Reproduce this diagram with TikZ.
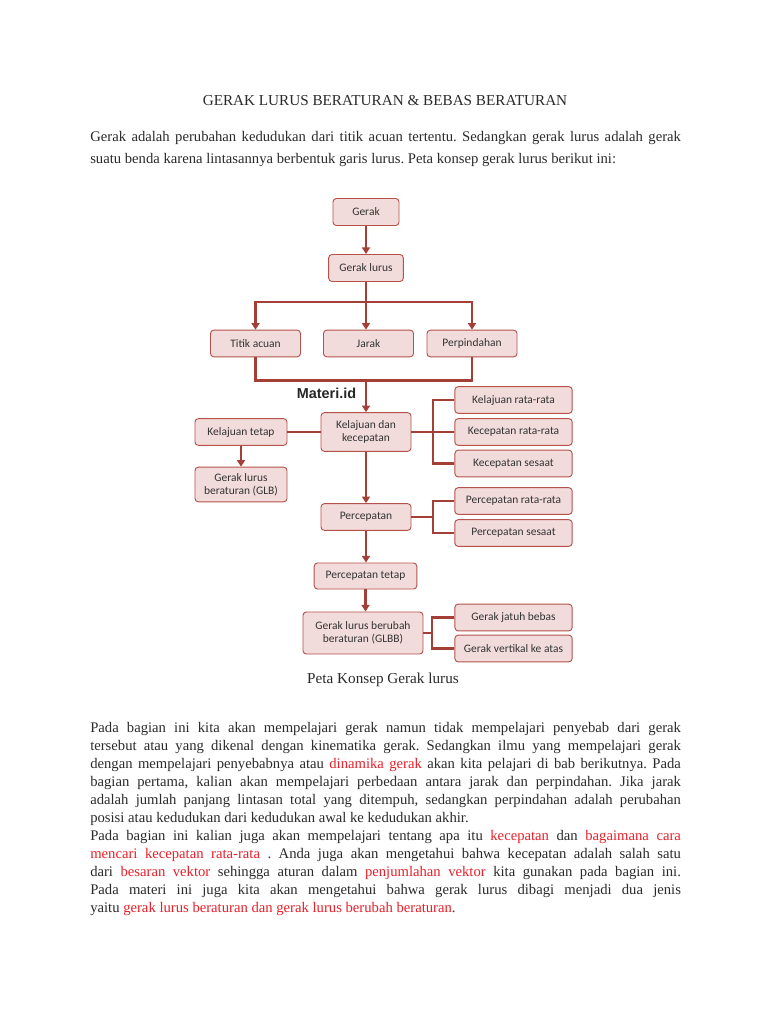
\documentclass[tikz,border=0pt]{standalone}
\usepackage{fontspec}
\setmainfont{Liberation Serif}
\newfontfamily\boxfont{Carlito}
\newfontfamily\logofont{Liberation Sans}
\usetikzlibrary{arrows.meta}
\definecolor{boxfill}{HTML}{F2DCDB}
\definecolor{boxline}{HTML}{B5524C}
\definecolor{connline}{HTML}{A43F37}
\definecolor{bodytext}{HTML}{2B2B2B}
\definecolor{hilite}{HTML}{E8202A}
\frenchspacing
\newcommand{\jline}[1]{\makebox[443pt][s]{#1}}
\newcommand{\hl}[1]{\textcolor{hilite}{#1}}
\tikzset{
  konsep/.style={draw=boxline, fill=boxfill, rounded corners=2.5pt, line width=0.7pt,
    font=\boxfont\fontsize{8.6}{9.6}\selectfont, text=black!80, align=center, inner sep=0pt},
  tengah/.style={konsep, minimum width=67.5pt, minimum height=20pt},
  kanan/.style={konsep, minimum width=88pt, minimum height=20pt},
  conn/.style={draw=connline, line width=1.9pt},
  arr/.style={conn, -{Triangle[length=5pt,width=6pt]}},
  txt/.style={anchor=base west, inner sep=0pt, text=bodytext, font=\fontsize{11}{13}\selectfont},
}
\begin{document}
\begin{tikzpicture}[x=0.75pt,y=-0.75pt]
  \fill[white] (0,0) rectangle (768,1024);
  \useasboundingbox (0,0) rectangle (768,1024);
  % heading and first paragraph
  \node[txt, anchor=base, font=\fontsize{11.4}{13}\selectfont] (judul) at (385,105) {GERAK LURUS BERATURAN \& BEBAS BERATURAN};
  \node[txt] (pa1) at (90,142) {\jline{Gerak adalah perubahan kedudukan dari titik acuan tertentu. Sedangkan gerak lurus adalah gerak}};
  \node[txt] (pa2) at (90,163) {suatu benda karena lintasannya berbentuk garis lurus. Peta konsep gerak lurus berikut ini:};
  % concept map
  \node[konsep, minimum width=49.5pt, minimum height=20.25pt] (gerak) at (366,212) {Gerak};
  \node[konsep, minimum width=56pt, minimum height=20.25pt] (geraklurus) at (366,268) {Gerak lurus};
  \node[tengah] (titik) at (255.5,343.5) {Titik acuan};
  \node[tengah] (jarak) at (368.5,343.5) {Jarak};
  \node[tengah] (perpindahan) at (472,343.5) {Perpindahan};
  \node[konsep, minimum width=67.5pt, minimum height=29pt] (kelkec) at (366,432) {Kelajuan dan\\kecepatan};
  \node[konsep, minimum width=69pt, minimum height=20pt] (keltetap) at (241,432) {Kelajuan tetap};
  \node[konsep, minimum width=69pt, minimum height=26pt] (glb) at (241,484.5) {Gerak lurus\\beraturan (GLB)};
  \node[kanan] (kelrata) at (513.5,400) {Kelajuan rata-rata};
  \node[kanan] (kecrata) at (513.5,432) {Kecepatan rata-rata};
  \node[kanan] (kecsesaat) at (513.5,463.5) {Kecepatan sesaat};
  \node[tengah] (percepatan) at (366,517) {Percepatan};
  \node[kanan] (perrata) at (513.5,501) {Percepatan rata-rata};
  \node[kanan] (persesaat) at (513.5,533) {Percepatan sesaat};
  \node[konsep, minimum width=77pt, minimum height=19.5pt] (pertetap) at (365.5,576) {Percepatan tetap};
  \node[konsep, minimum width=90pt, minimum height=31.5pt] (glbb) at (363,633) {Gerak lurus berubah\\beraturan (GLBB)};
  \node[kanan] (jatuh) at (513.5,617.5) {Gerak jatuh bebas};
  \node[kanan] (vertikal) at (513.5,648.5) {Gerak vertikal ke atas};
  \node[font=\logofont\bfseries\fontsize{10.8}{12}\selectfont, text=black!85] (logo) at (326.5,393) {Materi.id};
  \coordinate (busA) at (366,302);
  \coordinate (busB) at (366,380.5);
  \coordinate (brA) at (433,432);
  \coordinate (brB) at (433,517);
  \coordinate (brC) at (432,633);
  % connectors
  \draw[arr] (gerak) -- (geraklurus);
  \draw[conn] (geraklurus) -- (busA);
  \draw[arr] (busA) -| (titik);
  \draw[arr] (busA) -| (perpindahan);
  \draw[arr] (busA) -- (busA |- jarak.north);
  \draw[conn] (titik.south) |- (busB) -| (perpindahan.south);
  \draw[arr] (busB) -- (kelkec);
  \draw[conn] (keltetap) -- (kelkec);
  \draw[arr] (keltetap) -- (glb);
  \draw[conn] (kelkec) -- (kecrata);
  \draw[conn] (kelrata.west) -| (brA) |- (kecsesaat.west);
  \draw[arr] (kelkec) -- (percepatan);
  \draw[conn] (percepatan) -- (brB);
  \draw[conn] (perrata.west) -| (brB) |- (persesaat.west);
  \draw[arr] (percepatan) -- (percepatan |- pertetap.north);
  \draw[arr] (pertetap) -- (pertetap |- glbb.north);
  \draw[conn] (glbb) -- (brC);
  \draw[conn] (jatuh.west) -| (brC) |- (vertikal.west);
  \node[txt, anchor=base, font=\fontsize{11.4}{13}\selectfont] (caption) at (383,683) {Peta Konsep Gerak lurus};
  % second paragraph
  \node[txt] (pb1) at (90,732) {\jline{Pada bagian ini kita akan mempelajari gerak namun tidak mempelajari penyebab dari gerak}};
  \node[txt] (pb2) at (90,750) {\jline{tersebut atau yang dikenal dengan kinematika gerak. Sedangkan ilmu yang mempelajari gerak}};
  \node[txt] (pb3) at (90,768) {\jline{dengan mempelajari penyebabnya atau \hl{dinamika gerak} akan kita pelajari di bab berikutnya. Pada}};
  \node[txt] (pb4) at (90,786) {\jline{bagian pertama, kalian akan mempelajari perbedaan antara jarak dan perpindahan. Jika jarak}};
  \node[txt] (pb5) at (90,804) {\jline{adalah jumlah panjang lintasan total yang ditempuh, sedangkan perpindahan adalah perubahan}};
  \node[txt] (pb6) at (90,822) {posisi atau kedudukan dari kedudukan awal ke kedudukan akhir.};
  \node[txt] (pb7) at (90,840) {\jline{Pada bagian ini kalian juga akan mempelajari tentang apa itu \hl{kecepatan} dan \hl{bagaimana cara}}};
  \node[txt] (pb8) at (90,858) {\jline{\hl{mencari kecepatan rata-rata} . Anda juga akan mengetahui bahwa kecepatan adalah salah satu}};
  \node[txt] (pb9) at (90,876) {\jline{dari \hl{besaran vektor} sehingga aturan dalam \hl{penjumlahan vektor} kita gunakan pada bagian ini.}};
  \node[txt] (pb10) at (90,894) {\jline{Pada materi ini juga kita akan mengetahui bahwa gerak lurus dibagi menjadi dua jenis}};
  \node[txt] (pb11) at (90,912) {yaitu \hl{gerak lurus beraturan dan gerak lurus berubah beraturan}.};
\end{tikzpicture}
\end{document}
